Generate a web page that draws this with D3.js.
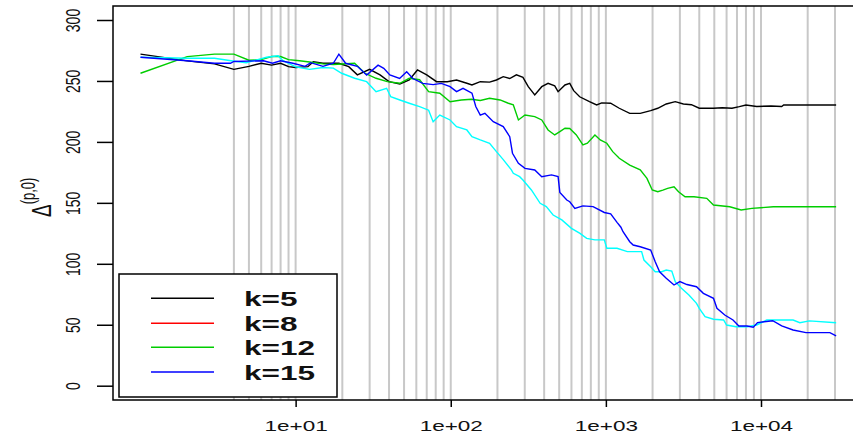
<!DOCTYPE html>
<html>
<head>
<meta charset="utf-8">
<script src="https://cdn.jsdelivr.net/npm/d3@7"></script>
<style>
html,body{margin:0;padding:0;background:#fff;}
svg{display:block;font-family:"Liberation Sans",Arial,sans-serif;}
</style>
</head>
<body>
<svg id="chart" width="853" height="436"></svg>
<script>
// ---- data (n, Delta) ----
const xTicks = [10, 100, 1000, 10000];
const xTickLabels = ["1e+01", "1e+02", "1e+03", "1e+04"];
const yTicks = [0, 50, 100, 150, 200, 250, 300];
const gridN = [4,5,6,7,8,9,10,20,30,40,50,60,70,80,90,100,200,300,400,500,600,700,800,900,1000,2000,3000,4000,5000,6000,7000,8000,9000,10000,20000,30000];
const legendLabels = ["k=5", "k=8", "k=12", "k=15"];
const legendColors = ["#000000", "#ff0000", "#00cd00", "#0000ff"];

const k5 = [[1,272],[2,266.5],[3,264],[4,259.5],[5,262],[6,264.5],[7,263],[8,264.5],[9,261.7],[10,261],[12,261.7],[13,265.8],[15,264.5],[19,264.5],[22,261.7],[25,255],[30,259.5],[35,255],[40,249.4],[47,247.5],[54,250.8],[61,259],[70,255],[81,249.4],[95,249.4],[109,250.8],[127,248.1],[137,246.7],[155,249.4],[178,249],[197,250.8],[218,253.5],[240,252],[265,255],[292,253],[316,245.3],[348,238.5],[386,245.3],[424,248],[468,246],[492,241.2],[545,246.7],[585,248],[620,242],[678,237],[784,233],[872,230.3],[940,232],[1073,231.7],[1220,227.6],[1425,223.4],[1665,223.4],[1945,225.6],[2160,227.6],[2450,231.1],[2800,233],[3160,231.1],[3560,230.5],[4000,227.6],[4940,227.6],[5630,228],[6500,227.6],[7250,228.9],[8000,230.3],[9380,229],[11600,229.5],[13600,229],[14000,230.3],[30500,230.3]];

const k12 = [[1,256.3],[2,270],[3,272],[4,272],[5,267],[6,267.5],[7,270],[8,270],[9,267.5],[10.6,266.6],[12.3,265.5],[15,264],[17.5,263.5],[24,264.5],[28,256.3],[33,252.2],[39,249.4],[47,248.1],[54,252.2],[63,251],[72,241.2],[85,239.9],[99,233],[117,234.4],[136,235],[155,234],[178,235.8],[208,234.4],[235,231.7],[253,230.5],[273,218],[301,222.1],[348,220.7],[386,218],[424,209.8],[468,205.7],[505,208.4],[545,211.2],[585,211],[645,205.7],[711,197.5],[760,199],[850,205.7],[920,201.6],[1014,198.9],[1107,192],[1220,186.6],[1425,181],[1665,177],[1840,170.1],[1990,160.6],[2160,159.1],[2330,160.5],[2500,161.9],[2750,163.2],[2940,159.1],[3240,155],[3700,155],[4470,153.7],[4940,148.2],[6290,146.8],[7450,144.1],[8740,145.5],[12000,146.8],[30500,146.8]];

const k15 = [[1,269.4],[2,266.6],[3,264.5],[3.8,264.5],[4,266],[6.2,266.6],[7.1,264.5],[8,266.6],[9.6,264.5],[11.5,262],[12.5,265],[15,262],[17.5,264.5],[19,272],[21,264.5],[25,262],[28.7,254.9],[34,263],[37,260.4],[40.5,255],[46.8,252],[52,257.6],[57,252],[66,248],[77,247],[87,248],[99,245.3],[109,241.2],[120,244],[137,240],[145,229],[155,222],[166,223.4],[188,216.6],[218,212.5],[240,204.3],[250,190.7],[273,182.5],[301,178.3],[348,177],[386,171.5],[446,172.9],[492,171.5],[505,158.5],[560,152.3],[585,150.9],[631,145.5],[711,147.5],[827,146.9],[977,142.1],[1074,141],[1180,134],[1250,130],[1290,126.3],[1425,118.1],[1500,115.4],[1665,114],[1945,111.3],[2080,101.7],[2220,93.5],[2450,88.1],[2750,82.6],[3000,85.4],[3330,83],[3840,81.2],[4250,75.8],[4940,71.7],[5200,63.5],[5840,58],[6600,53.9],[7200,49],[8130,49],[8920,48],[9500,51.8],[11900,53.3],[13600,49],[16100,45.7],[19500,43.5],[27800,43.5],[30500,40.8]];

const cyanSeries = [[1,269.4],[2,268.6],[3,268.6],[3.83,266.6],[4.8,265],[6.5,269.4],[7.7,270.6],[8.3,266.6],[10,261.6],[12.3,259.5],[15,261],[17.5,260.5],[19.8,256.3],[24,252.2],[28.7,249.4],[33,241.2],[38.6,244],[41,237.1],[47,234.4],[54,231.7],[63,228.9],[72,226],[77,216.6],[85,222],[99,218],[109,212.5],[127,209.8],[137,204.3],[155,201.6],[178,198.9],[197,192],[218,185.5],[246,177],[253,174.2],[278,171.5],[292,168.7],[331,160.6],[377,149.6],[413,146.9],[457,140],[520,136],[600,129.1],[681,125],[752,120.9],[850,119.6],[977,119.6],[1014,112.7],[1180,112.7],[1375,110],[1700,110],[1760,103.1],[1945,97.6],[2080,93.5],[2290,93.5],[2450,94.9],[2660,94],[2800,85.3],[3070,79.9],[3430,74.4],[3840,67.6],[4000,63.5],[4360,56.6],[4940,54.5],[5740,53.9],[6000,49.8],[6900,48.4],[8130,48.4],[9380,49.8],[10900,53.9],[16100,53.9],[17800,51.7],[20500,53.2],[30500,51.7]];

// ---- layout ----
const svg = d3.select("#chart");
const box = {left: 113, top: 6, right: 864, bottom: 400};
const x = d3.scaleLog().domain([1, 10000]).range([140.5, 761]);
const y = d3.scaleLinear().domain([0, 300]).range([385.7, 20]);
const SX = 1.5; // horizontal stretch of the reference text

// grid lines
svg.append("g").selectAll("line").data(gridN).join("line")
  .attr("x1", d => x(d)).attr("x2", d => x(d))
  .attr("y1", box.top).attr("y2", box.bottom)
  .attr("stroke", "#c8c8c8").attr("stroke-width", 2);

// series
const line = d3.line().x(d => x(d[0])).y(d => y(d[1]));
const series = [
  {data: k5, color: "#000000"},
  {data: k12, color: "#00cd00"},
  {data: cyanSeries, color: "#00ffff"},
  {data: k15, color: "#0000ff"}
];
svg.append("g").selectAll("path").data(series).join("path")
  .attr("d", d => line(d.data))
  .attr("fill", "none")
  .attr("stroke", d => d.color)
  .attr("stroke-width", 1.4)
  .attr("stroke-linejoin", "miter");

// x axis
const xAxis = svg.append("g").attr("transform", `translate(0,${box.bottom})`)
  .call(d3.axisBottom(x).tickValues(xTicks).tickSize(7).tickSizeOuter(0)
    .tickFormat((d, i) => xTickLabels[i]));
xAxis.select(".domain").remove();
xAxis.selectAll(".tick line").attr("stroke", "#000").attr("stroke-width", 1.5);
xAxis.selectAll(".tick text")
  .attr("y", 0).attr("dy", 0)
  .attr("transform", `translate(0,30.5) scale(${SX},1)`)
  .attr("font-size", 15).attr("fill", "#111")
  .attr("font-family", "'Liberation Sans', Arial, sans-serif");

// y axis
const yAxis = svg.append("g").attr("transform", `translate(${box.left},0)`)
  .call(d3.axisLeft(y).tickValues(yTicks).tickSize(16).tickSizeOuter(0));
yAxis.select(".domain").remove();
yAxis.selectAll(".tick line").attr("stroke", "#000").attr("stroke-width", 1.5);
yAxis.selectAll(".tick text")
  .attr("x", 0).attr("y", 0).attr("dy", "0.36em")
  .attr("text-anchor", "middle")
  .attr("transform", `translate(-41,0) scale(${SX},1) rotate(-90)`)
  .attr("font-size", 14).attr("fill", "#111")
  .attr("font-family", "'Liberation Sans', Arial, sans-serif");

// y label  Δ^(p,0)
const yl = svg.append("text")
  .attr("transform", `translate(51,${(box.top + box.bottom) / 2 + 14}) scale(${SX},1) rotate(-90)`)
  .attr("text-anchor", "start")
  .attr("fill", "#111");
yl.append("tspan").attr("font-size", 19).text("Δ");
yl.append("tspan").attr("font-size", 13).attr("dy", -11).text("(p,0)");

// plot box
svg.append("rect")
  .attr("x", box.left).attr("y", box.top)
  .attr("width", box.right - box.left).attr("height", box.bottom - box.top)
  .attr("fill", "none").attr("stroke", "#000").attr("stroke-width", 1.5);

// legend
const lg = svg.append("g");
lg.append("rect").attr("x", 119).attr("y", 274).attr("width", 218).attr("height", 123)
  .attr("fill", "#fff").attr("stroke", "#000").attr("stroke-width", 1.5);
const rowsY = [298.3, 323.3, 347.3, 372];
const rows = lg.selectAll("g.row").data(legendLabels).join("g").attr("class", "row")
  .attr("transform", (d, i) => `translate(0,${rowsY[i]})`);
rows.append("line").attr("x1", 151).attr("x2", 214).attr("y1", 0).attr("y2", 0)
  .attr("stroke", (d, i) => legendColors[i]).attr("stroke-width", 1.4);
rows.append("text")
  .attr("transform", `translate(244,7.5) scale(${SX},1)`)
  .attr("font-size", 21).attr("font-weight", "bold").attr("fill", "#111")
  .text(d => d);
</script>
</body>
</html>
